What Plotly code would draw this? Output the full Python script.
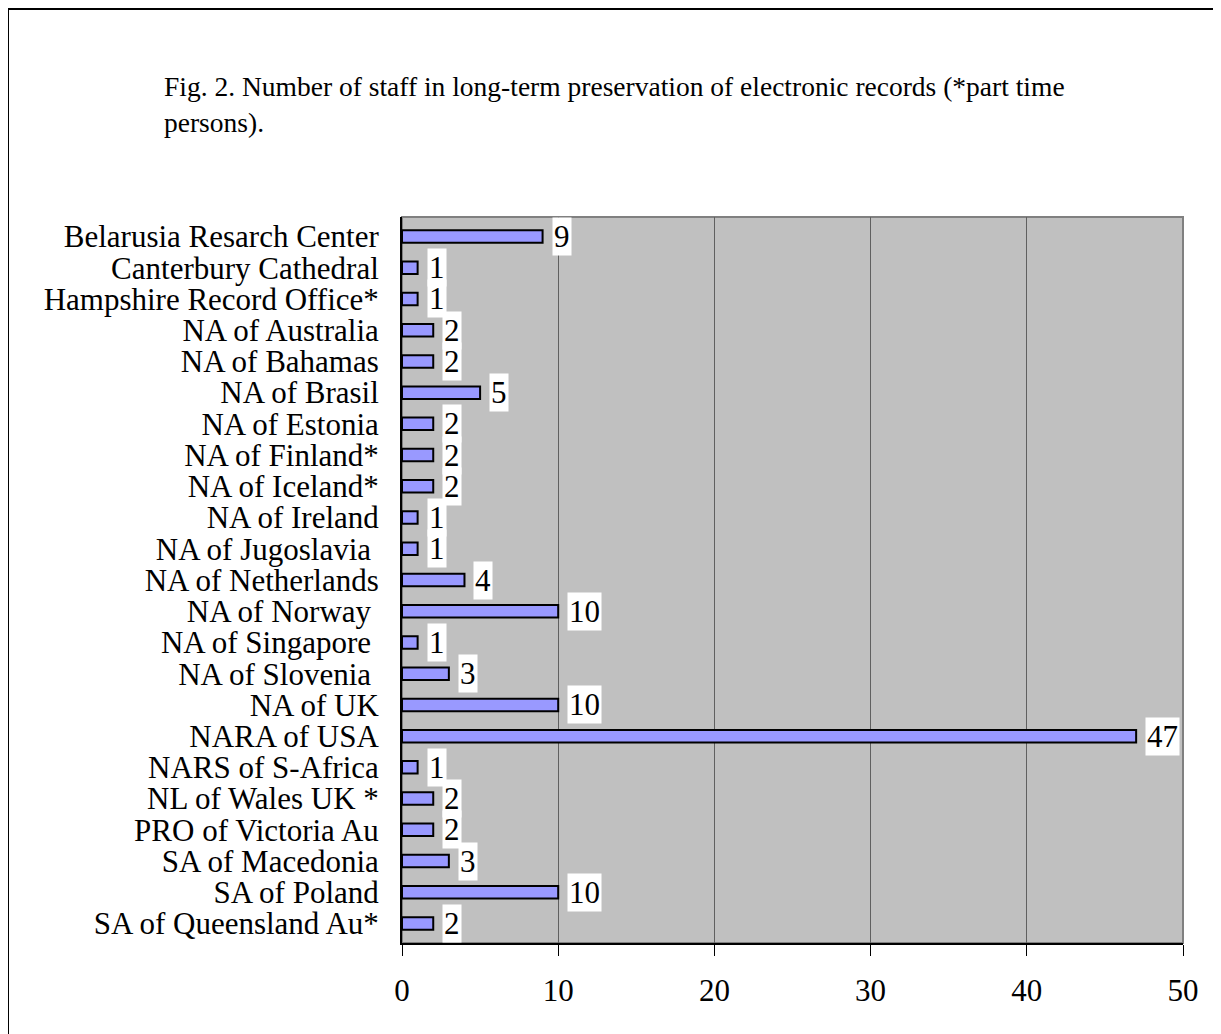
import plotly.graph_objects as go

categories = [
    "Belarusia Resarch Center", "Canterbury Cathedral", "Hampshire Record Office*",
    "NA of Australia", "NA of Bahamas", "NA of Brasil", "NA of Estonia",
    "NA of Finland*", "NA of Iceland*", "NA of Ireland", "NA of Jugoslavia\u00a0",
    "NA of Netherlands", "NA of Norway\u00a0", "NA of Singapore\u00a0", "NA of Slovenia\u00a0",
    "NA of UK", "NARA of USA", "NARS of S-Africa", "NL of Wales UK *",
    "PRO of Victoria Au", "SA of Macedonia", "SA of Poland", "SA of Queensland Au*",
]
values = [9, 1, 1, 2, 2, 5, 2, 2, 2, 1, 1, 4, 10, 1, 3, 10, 47, 1, 2, 2, 3, 10, 2]
x_ticks = [0, 10, 20, 30, 40, 50]
title_text = ("Fig. 2. Number of staff in long-term preservation of electronic records (*part time"
              "<br>persons).")

FONT = "Liberation Serif, Times New Roman, serif"
OFF = 8  # page body margin
W, H = 1221 - OFF, 1034 - OFF
L, R, T, B = 402 - OFF, 1183 - OFF, 217 - OFF, 943 - OFF
pw, ph = R - L, B - T

fig = go.Figure(go.Bar(
    x=values, y=categories, orientation="h",
    marker=dict(color="#9999FF", line=dict(color="black", width=2)),
    width=0.4, hoverinfo="x+y",
))

for c, v in zip(categories, values):
    fig.add_annotation(x=v, y=c, text=str(v), showarrow=False, xanchor="left",
                       xshift=9, bgcolor="white", borderpad=1,
                       font=dict(family=FONT, size=31, color="black"))

fig.add_annotation(xref="paper", yref="paper", x=(162 - OFF - L) / pw, y=(B - (69 - OFF)) / ph,
                   xanchor="left", yanchor="top", align="left", showarrow=False,
                   text=title_text, font=dict(family=FONT, size=27.5, color="black"))

# outer frame
fig.add_shape(type="rect", xref="paper", yref="paper",
              x0=(8 - OFF - L) / pw, x1=(W + 20 - L) / pw,
              y0=(B - H - 20) / ph, y1=(B - (9 - OFF)) / ph,
              line=dict(color="black", width=2), layer="below")
# plot-area gray border (top/right)
fig.add_shape(type="rect", xref="paper", yref="paper", x0=0, x1=1, y0=0, y1=1,
              line=dict(color="#808080", width=2), layer="below")

fig.update_layout(
    width=W, height=H,
    margin=dict(l=L, r=W - R, t=T, b=H - B, pad=0),
    paper_bgcolor="white", plot_bgcolor="#C0C0C0",
    showlegend=False,
    font=dict(family=FONT, size=31, color="black"),
    bargap=0.6,
)
fig.update_xaxes(range=[0, 50], tickvals=x_ticks, showgrid=True, gridcolor="#606060",
                 gridwidth=1, zeroline=False, showline=True, linecolor="black", linewidth=2,
                 ticks="outside", ticklen=11, tickcolor="black", tickwidth=1,
                 ticklabelstandoff=8, tickfont=dict(family=FONT, size=31))
fig.update_yaxes(autorange="reversed", tickmode="array", tickvals=categories,
                 ticktext=categories, showgrid=False, zeroline=False, showline=True,
                 linecolor="black", linewidth=2, ticks="", ticklabelstandoff=15,
                 tickfont=dict(family=FONT, size=31))

fig.write_html("out.html")
